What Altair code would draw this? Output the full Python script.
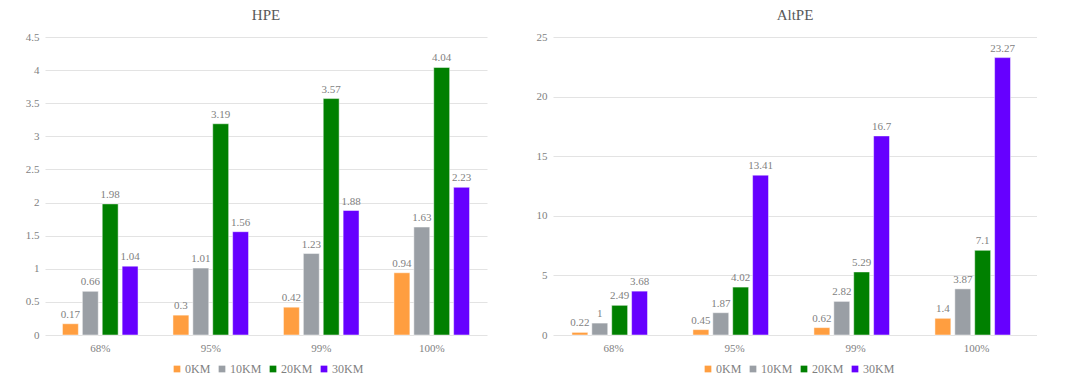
import altair as alt
import pandas as pd

categories = ["68%", "95%", "99%", "100%"]
series = ["0KM", "10KM", "20KM", "30KM"]
colors = ["#FF9E40", "#9A9FA5", "#008000", "#6600FF"]

hpe_0km = [0.17, 0.3, 0.42, 0.94]
hpe_10km = [0.66, 1.01, 1.23, 1.63]
hpe_20km = [1.98, 3.19, 3.57, 4.04]
hpe_30km = [1.04, 1.56, 1.88, 2.23]

alt_0km = [0.22, 0.45, 0.62, 1.4]
alt_10km = [1, 1.87, 2.82, 3.87]
alt_20km = [2.49, 4.02, 5.29, 7.1]
alt_30km = [3.68, 13.41, 16.7, 23.27]

FONT = "Liberation Serif"
GRAY = "#7F7F7F"


def make_df(cols):
    rows = []
    for s, vals in zip(series, cols):
        for c, v in zip(categories, vals):
            rows.append({"cat": c, "series": s, "value": v})
    return pd.DataFrame(rows)


def panel(df, title, width, ymax, ystep, extent, legend_x):
    yvals = [round(i * ystep, 2) for i in range(int(round(ymax / ystep)) + 1)]
    base = alt.Chart(df).encode(
        x=alt.X("cat:N", sort=categories, title=None,
                scale=alt.Scale(paddingInner=0.28, paddingOuter=0.14),
                axis=alt.Axis(labelAngle=0, ticks=False, domain=False,
                              labelPadding=7, labelFont=FONT, labelFontSize=11,
                              labelColor=GRAY)),
        xOffset=alt.XOffset("series:N", sort=series,
                            scale=alt.Scale(paddingInner=0.2, paddingOuter=0.1)),
        y=alt.Y("value:Q", title=None, scale=alt.Scale(domain=[0, ymax], nice=False),
                axis=alt.Axis(values=yvals, format="~g", ticks=False, domain=False,
                              gridColor="#E3E3E3", gridWidth=1.2, labelOverlap=False,
                              labelFont=FONT, labelFontSize=11, labelColor=GRAY,
                              labelPadding=6, minExtent=extent, maxExtent=extent)),
    )
    bars = base.mark_bar(stroke="#FFFFFF", strokeWidth=0.8, strokeOpacity=0.6).encode(
        color=alt.Color("series:N", sort=series,
                        scale=alt.Scale(domain=series, range=colors),
                        legend=alt.Legend(title=None, orient="none", direction="horizontal",
                                          legendX=legend_x, legendY=326,
                                          symbolType="square", symbolSize=45,
                                          symbolStrokeWidth=0, labelOffset=2,
                                          labelFont=FONT, labelFontSize=12,
                                          labelColor=GRAY, columnPadding=5,
                                          symbolOffset=0, padding=0)),
    )
    labels = base.mark_text(dy=-9, font=FONT, fontSize=11, color=GRAY).encode(
        text=alt.Text("value:Q", format=".2~f"),
    )
    return alt.layer(bars, labels).properties(
        width=width, height=298,
        title=alt.TitleParams(title, font=FONT, fontSize=15, fontWeight="normal",
                              color="#595959", offset=8),
    )


hpe = panel(make_df([hpe_0km, hpe_10km, hpe_20km, hpe_30km]), "HPE", 442, 4.5, 0.5, 37, 126)
altpe = panel(make_df([alt_0km, alt_10km, alt_20km, alt_30km]), "AltPE", 484, 25, 5, 20, 149)

chart = alt.hconcat(hpe, altpe, spacing=46).resolve_legend(color="independent").properties(
    padding=0
).configure(background="#FFFFFF").configure_view(stroke=None)

chart.save("out.html", embed_options={"renderer": "svg", "actions": False})
